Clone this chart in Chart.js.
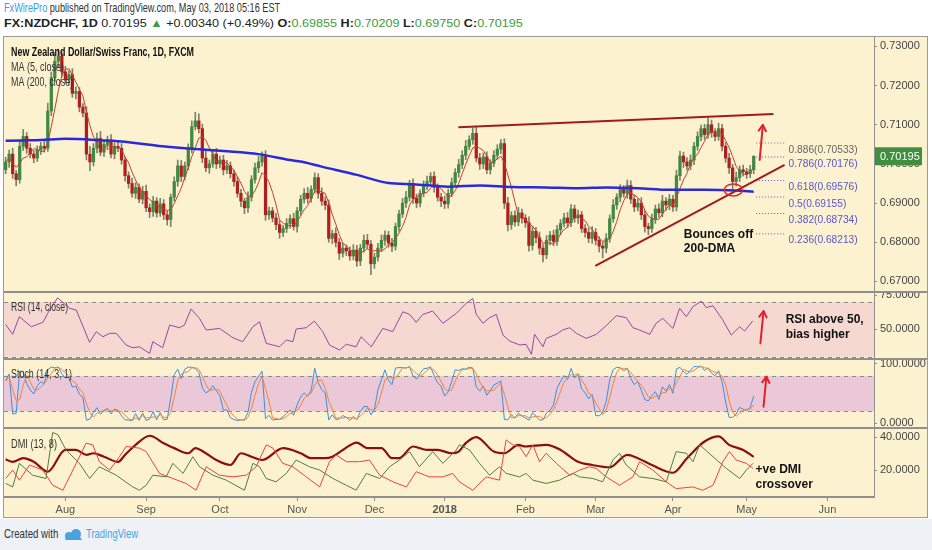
<!DOCTYPE html>
<html>
<head>
<meta charset="utf-8">
<script src="https://cdn.jsdelivr.net/npm/chart.js@4.4.0/dist/chart.umd.min.js"></script>
<style>
  html, body { margin: 0; padding: 0; background: #fff; }
  body { width: 932px; height: 550px; position: relative; overflow: hidden;
         font-family: "Liberation Sans", Arial, sans-serif; }
  .fit { position: absolute; white-space: nowrap; transform-origin: 0 0; }
  #hdr1 { left: 4px; top: 0px; font-size: 13px; color: #333; }
  #hdr2 { left: 4px; top: 17px; font-size: 11.5px; color: #222; }
  .g { color: #3b9b3b; }
  #frame { position: absolute; left: 3px; top: 36px; width: 923px; height: 480px;
           background: #fdf2d0; border: 1px solid #9a9a9a; }
  .pane { position: absolute; left: 4px; width: 923px; }
  .sep { position: absolute; left: 4px; width: 923px; height: 2px; background: #8f8f8f; }
  #foot { position: absolute; left: 0; top: 519px; width: 932px; height: 31px; background: #eef1f5;
          font-size: 12px; color: #333; }
  #foot .fit { top: 8px; }
</style>
</head>
<body>
<div id="hdr1" class="fit"><span style="color:#3d9be9">FxWirePro</span> published on TradingView.com, May 03, 2018 05:16 EST</div>
<div id="hdr2" class="fit"><b>FX:NZDCHF, 1D</b> 0.70195 <span class="g">&#9650;</span> +0.00340 (+0.49%) <b>O:</b><span class="g">0.69855</span> <b>H:</b><span class="g">0.70209</span> <b>L:</b><span class="g">0.69750</span> <b>C:</b><span class="g">0.70195</span></div>
<div id="frame"></div>
<div class="pane" style="top:37px;height:255px"><canvas id="mainChart"></canvas></div>
<div class="pane" style="top:292px;height:67px"><canvas id="rsiChart"></canvas></div>
<div class="pane" style="top:359px;height:69px"><canvas id="stochChart"></canvas></div>
<div class="pane" style="top:428px;height:89px"><canvas id="dmiChart"></canvas></div>
<div class="sep" style="top:291px"></div>
<div class="sep" style="top:358px"></div>
<div class="sep" style="top:427px"></div>
<div id="foot">
  <span id="created" class="fit" style="left:4px">Created with</span>
  <svg style="position:absolute;left:64px;top:9px" width="19" height="13" viewBox="0 0 19 13">
    <path d="M1 12 L5 5 L8 8 L12 2 L18 12 Z" fill="#4aa3df"/>
    <circle cx="5" cy="8" r="4" fill="#4aa3df"/><circle cx="12" cy="6" r="5" fill="#4aa3df"/>
  </svg>
  <span id="tvname" class="fit" style="left:86px;color:#4aa3df">TradingView</span>
</div>

<script>
// ---- data ----
// daily closes, bar 0 = 7 Jul 2017 ... bar 213 = 3 May 2018
var closes = [
  0.7005,0.7025,0.6975,0.6960,0.7045,0.7070,0.7040,0.7025,0.7015,0.7035,
  0.7045,0.7040,0.7135,0.7220,0.7262,0.7275,0.7235,0.7215,0.7228,0.7180,
  0.7185,0.7145,0.7130,0.7025,0.7005,0.7040,0.7065,0.7030,0.7050,0.7060,
  0.7025,0.7045,0.7040,0.7010,0.6970,0.6950,0.6925,0.6940,0.6910,0.6930,
  0.6888,0.6878,0.6905,0.6875,0.6898,0.6870,0.6858,0.6915,0.6955,0.6995,
  0.6968,0.6995,0.7040,0.7095,0.7110,0.7090,0.7015,0.6990,0.7000,0.7025,
  0.7000,0.7010,0.6985,0.6995,0.6975,0.6955,0.6925,0.6905,0.6888,0.6915,
  0.6960,0.6990,0.7005,0.7020,0.6870,0.6880,0.6862,0.6845,0.6825,0.6835,
  0.6848,0.6860,0.6840,0.6880,0.6910,0.6925,0.6912,0.6935,0.6965,0.6925,
  0.6905,0.6895,0.6810,0.6822,0.6800,0.6772,0.6785,0.6778,0.6765,0.6780,
  0.6752,0.6785,0.6805,0.6795,0.6745,0.6762,0.6785,0.6805,0.6818,0.6798,
  0.6790,0.6840,0.6872,0.6900,0.6915,0.6948,0.6912,0.6900,0.6925,0.6945,
  0.6955,0.6968,0.6940,0.6915,0.6905,0.6898,0.6925,0.6952,0.6978,0.6998,
  0.7022,0.7045,0.7062,0.7078,0.7015,0.7000,0.7018,0.6985,0.7002,0.7022,
  0.7038,0.7052,0.6900,0.6845,0.6868,0.6852,0.6875,0.6862,0.6850,0.6792,
  0.6828,0.6812,0.6785,0.6768,0.6805,0.6818,0.6802,0.6832,0.6848,0.6862,
  0.6850,0.6885,0.6862,0.6870,0.6835,0.6825,0.6810,0.6825,0.6805,0.6790,
  0.6785,0.6810,0.6860,0.6895,0.6915,0.6935,0.6925,0.6945,0.6910,0.6890,
  0.6900,0.6870,0.6840,0.6835,0.6860,0.6885,0.6875,0.6905,0.6895,0.6910,
  0.6890,0.6970,0.7020,0.7005,0.6995,0.7010,0.7045,0.7070,0.7090,0.7075,
  0.7100,0.7080,0.7070,0.7090,0.7045,0.7015,0.6990,0.6955,0.6965,0.6985,
  0.6980,0.6975,0.69855,0.70195
];
var firstOpen = 0.6985;
// wick length above / below the body, in pips
var wickUp = [
  12,10,15,8,14,18,10,12,9,11, 10,13,20,15,22,18,12,14,10,15,
  12,10,9,16,20,12,14,18,10,11, 15,9,10,12,8,10,14,12,9,13,
  16,10,12,9,14,11,10,8,12,15, 14,10,11,15,22,18,12,20,10,12,
  15,10,12,14,10,9,12,10,8,14, 10,12,15,11,14,10,9,12,10,8,
  12,10,14,9,10,12,15,9,12,10, 14,11,13,9,15,10,12,8,10,14,
  12,10,13,15,9,10,12,14,11,10, 12,9,10,12,15,10,14,11,9,12,
  14,10,12,9,10,13,11,12,10,14, 12,15,10,14,18,12,10,13,9,12,
  11,10,12,15,10,12,14,10,9,15, 12,10,14,9,12,10,13,11,10,12,
  14,11,10,12,9,10,12,15,10,9, 11,12,10,14,9,12,10,14,12,10,
  11,14,10,9,12,10,13,15,9,12, 10,14,12,10,11,13,10,12,9,11,
  17,12,10,14,11,10,12,9,14,10, 12,9,11,1.4
];
var wickDn = [
  10,14,12,16,9,11,13,10,12,9, 11,10,8,12,10,14,12,9,13,10,
  14,12,10,15,22,10,12,9,11,14, 10,12,9,11,14,12,10,13,9,12,
  10,15,12,11,9,12,14,18,10,12, 13,9,10,12,8,11,12,10,14,9,
  12,10,13,9,11,12,10,14,15,12, 10,9,12,11,14,12,10,13,15,11,
  10,12,9,14,11,10,12,10,9,13, 11,12,10,14,12,16,10,12,11,10,
  14,12,10,11,28,12,10,9,13,11, 14,10,12,9,11,10,13,12,10,9,
  11,10,12,10,14,12,11,9,10,12, 10,11,9,12,10,14,12,10,11,9,
  10,12,14,16,12,11,10,13,12,15, 12,14,16,18,10,12,11,10,13,9,
  12,10,11,14,10,12,11,13,12,15, 25,12,10,9,11,12,10,13,11,12,
  10,12,14,16,10,12,11,10,14,12, 11,10,12,14,11,10,12,10,11,12,
  10,12,11,10,12,11,14,18,12,10, 11,12,10,10.5
];
// 200-day MA read at a few bars
var ma200Idx = [0,5,10,17,28,32,41,46,51,56,62,72,81,84,90,100,109,116,126,135,144,154,163,171,180,189,199,208,213];
var ma200Val = [0.7059,0.7060,0.7061,0.7064,0.7060,0.7058,0.7049,0.7044,0.7040,0.7037,0.7033,0.7025,0.7010,0.7006,0.6993,0.6972,0.6951,0.6948,0.6942,0.6945,0.6941,0.6940,0.6938,0.6940,0.6938,0.6934,0.6934,0.6932,0.6929];

// RSI (14, close) read at [bar, value]
var rsiRead = [[0,53.6],[2,46.4],[3.9,59.2],[7.3,51.9],[10.6,55.1],[12.5,64.1],[14.8,73],[18.2,65.3],[20.1,64.1],[23.9,40.5],
  [25.8,48.3],[27.7,44.6],[29.6,47.1],[31.5,47.1],[34.3,38.6],[36.2,36.6],[38.1,37.3],[41,32.5],[41.9,41],[44.7,36.6],
  [46.7,53.1],[49.5,51.2],[50.9,53.1],[52.8,64.8],[55.2,58],[57.1,49.5],[60.9,50.7],[64.7,43.9],[67.5,41],[70.4,51.9],
  [72.3,55.5],[74.2,39.8],[78,37.3],[79.9,42.2],[81.8,41],[82.7,50.2],[85.6,51.2],[87.9,56],[90.3,48.3],[92.2,38.6],
  [95.1,34.9],[97,39.1],[99.8,37.3],[101.2,44.6],[104.1,37.3],[107.4,50.7],[110.2,48.3],[113.1,62.8],[115,60.9],[116.9,55.1],
  [118.8,60.9],[121.6,63.3],[124.5,54.4],[128.3,61.6],[131.1,68.9],[133,72.5],[134,60.9],[135.9,54.4],[137.8,58.5],[139.7,60.9],
  [141.6,45.8],[143.5,41.5],[146.4,38.6],[148.2,39.1],[149.7,31.8],[150.6,46.4],[153,37.3],[153.9,43.4],[156.8,46.4],[158.6,49.5],
  [160.6,51.2],[162.5,47.1],[165.3,43.4],[168.2,46.4],[171,52.7],[173.9,60],[176.7,58.5],[178.6,51.2],[180.5,49.5],[183.4,46.4],
  [185.2,54.4],[187.1,58],[190,50.7],[191.9,65.3],[193.8,59.2],[195.7,66.5],[198.1,70.6],[199.5,65.8],[201.4,67.2],[204.2,56.8],
  [206.6,45.8],[209,51.9],[210.4,48.8],[212.7,56]];

// DMI (13, 8) lines read at [bar, value]
var adxRead = [[0,26.5],[2,25],[5,27.2],[8,25],[12,19],[17,32.2],[20,32.2],[23,29.2],[25,30.2],[28,28.1],
  [32,25],[34,29.2],[37,35.3],[41,40.8],[45,36.3],[48,33.3],[52,30.2],[54,33.3],[57,30.2],[60,26.1],
  [64,23.1],[67,30.2],[70,28.1],[73,26.1],[79,33.3],[84,30.2],[87,27.2],[91,27.2],[93,28.1],[96,32.2],
  [100,36.7],[103,33.3],[107,33.3],[110,27.2],[112,27.2],[116,34.3],[120,32.2],[123,32.2],[127,30.2],[129,31.2],
  [131,36.3],[134,40],[139,31.2],[142,30.2],[146,35.3],[148,34.3],[154,35.3],[158,32.2],[163,25],[167,23.1],
  [172,21.7],[177,29.2],[180,27.2],[184,23.1],[190,18.4],[194,27.2],[199,37.3],[203,40.4],[206,35.3],[210,32.2],[213,28]];
var diPlusRead = [[0,11.9],[2,9.8],[3.9,24.1],[7.7,16.9],[11.5,14.9],[13.4,42.8],[14.9,41.4],[17.2,32.2],[21,24.1],[23.9,14.9],
  [26.7,22],[31.5,16.9],[36.2,9.8],[38.1,7.8],[40,10.8],[41.9,16.9],[45.7,15.9],[47.6,24.1],[50.5,18],[53.3,28.1],
  [55.2,22],[59,16.9],[62.8,13.9],[68,7.8],[70.4,24.1],[72.3,22],[74.2,14.9],[77,12.9],[79.9,18],[82.7,26.1],
  [86.5,22],[89.4,20],[93.2,14.9],[97,10.8],[99.8,7.8],[102.7,18],[106.5,14.9],[109.3,22],[112.1,26.1],[115,31.2],
  [117.8,22],[121.6,31.2],[124.5,24.1],[128.3,32.2],[129.2,35.3],[132.1,32.2],[134.9,24.1],[137.8,16.9],[140.6,22],[142.5,18],
  [146.3,15.9],[148.2,18],[150.1,13.9],[153.9,11.9],[157.7,13.9],[161.5,18],[163.4,15.9],[167.2,14.9],[170,12.9],[172.9,26.1],
  [174.8,30.2],[176.7,23.1],[180.5,15.9],[184.3,14.9],[188.1,12.9],[190.9,31.2],[193.8,30.2],[195.7,25.1],[197.6,35.3],[201.4,28.1],
  [205.2,21],[207.1,18],[209,14.9],[210.9,20],[212.8,24.1]];
var diMinusRead = [[0,14.9],[2,20],[3.9,13.9],[6.8,23.1],[10.6,20],[13.4,10.8],[16.3,7.8],[20.1,24.1],[22.9,36.3],[24.8,35.3],
  [26.7,25.1],[29.6,20],[32.4,28.1],[34.3,34.3],[38.1,33.3],[40,31.2],[43.8,18],[47.6,14.9],[51.4,11.9],[54.2,7.8],
  [57.1,22],[60.9,16.9],[64.7,15.9],[68.5,16.9],[71.3,22],[74.2,35.3],[76.1,33.3],[78.9,24.1],[81.8,22],[85.6,15.9],
  [89.4,9.8],[92.2,25.1],[94.1,29.2],[97,25.1],[100.8,25.1],[103.6,26.1],[106.5,16.9],[110.3,12.9],[114.1,9.8],[116.9,19],
  [120.7,15.9],[124.5,15.9],[127.3,18],[129.2,12.9],[133,7.8],[136.8,15.9],[140.6,13.9],[142.5,38.3],[144.4,35.3],[146.3,34.3],
  [148.2,28.1],[150.1,35.3],[152,25.1],[153.9,30.2],[156.8,24.1],[160.6,16.9],[163.4,20],[166.2,22],[168.2,21],[171,15.9],
  [174.8,10.8],[178.6,15.9],[180.5,25.1],[184.3,20],[188.1,12.9],[190.9,8.8],[195.7,9.8],[198.5,7.8],[201.4,10.8],[204.2,25.1],
  [206.1,31.2],[208,26.1],[210.9,24.1],[212.8,21]];

var monthIdx = [17,40,61,83,105,125,148,168,190,211,234];
var monthLabels = ['Aug','Sep','Oct','Nov','Dec','2018','Feb','Mar','Apr','May','Jun'];
var priceTicks = [0.67,0.68,0.69,0.70,0.71,0.72,0.73];
var rsiTicks = [50,75];
var stochTicks = [0,100];
var dmiTicks = [20,40];

var fibRatio = ['0.886','0.786','0.618','0.5','0.382','0.236'];
var fibPrice = [0.70533,0.70176,0.69576,0.69155,0.68734,0.68213];
var fibFrom = 213.7, fibTo = 221.8;
var trendUpX = [128.9,218.6], trendUpY = [0.70936,0.71276];
var trendLoX = [167.9,221.8], trendLoY = [0.67398,0.69974];

var X_MIN = -0.47, X_MAX = 247.25;
var FA = '"Liberation Sans",Arial,sans-serif';

// ---- bars ----
var opens = closes.map(function (c, i) { return i === 0 ? firstOpen : closes[i - 1]; });
var highs = closes.map(function (c, i) { return Math.max(opens[i], c) + wickUp[i] / 10000; });
var lows = closes.map(function (c, i) { return Math.min(opens[i], c) - wickDn[i] / 10000; });
var upBar = closes.map(function (c, i) { return c >= opens[i]; });

function avg(a) { return a.reduce(function (s, v) { return s + v; }, 0) / a.length; }
function pts(pairs) { return pairs.map(function (p) { return { x: p[0], y: p[1] }; }); }

var ma5 = closes.map(function (c, i) { return { x: i, y: avg(closes.slice(Math.max(0, i - 4), i + 1)) }; });
var ma200 = ma200Idx.map(function (v, k) { return { x: v, y: ma200Val[k] }; });

// ---- Stoch (14) from the bars: blue %K, orange 3-bar average ----
var kRaw = closes.map(function (c, i) {
  var s = Math.max(0, i - 13);
  var hh = Math.max.apply(null, highs.slice(s, i + 1)), ll = Math.min.apply(null, lows.slice(s, i + 1));
  return 100 * (c - ll) / (hh - ll);
});
var stochK = kRaw.map(function (v, i) { return { x: i, y: v }; });
var stochD = kRaw.map(function (v, i) { return { x: i, y: avg(kRaw.slice(Math.max(0, i - 2), i + 1)) }; });

// ---- shared scales ----
function xScale(show) {
  return {
    type: 'linear', min: X_MIN, max: X_MAX, display: show, offset: false,
    afterBuildTicks: function (ax) { ax.ticks = monthIdx.map(function (v) { return { value: v }; }); },
    afterFit: function (ax) { if (show) { ax.height = 20; } ax.paddingLeft = 0; ax.paddingRight = 0; },
    grid: { drawOnChartArea: false, drawTicks: true, tickLength: 4, color: '#8f8f8f', offset: false },
    border: { display: true, color: '#8f8f8f', width: 2 },
    ticks: {
      maxRotation: 0, autoSkip: false, color: '#555', padding: 2,
      font: function (c) { return { family: FA, size: 11, weight: c.tick && c.tick.value === 125 ? 'bold' : 'normal' }; },
      callback: function (v) { return monthLabels[monthIdx.indexOf(v)]; }
    }
  };
}
function yScale(min, max, ticks, dec) {
  return {
    position: 'right', min: min, max: max,
    afterBuildTicks: function (ax) { ax.ticks = ticks.map(function (v) { return { value: v }; }); },
    afterFit: function (ax) { ax.width = 53; ax.paddingTop = 0; ax.paddingBottom = 0; },
    grid: { drawOnChartArea: false, drawTicks: true, tickLength: 3, color: '#8f8f8f' },
    border: { display: true, color: '#8f8f8f', width: 1 },
    ticks: { color: '#444', padding: 3, font: { family: FA, size: 11 }, callback: function (v) { return v.toFixed(dec); } }
  };
}
function baseOptions(showX, y) {
  return {
    responsive: true, maintainAspectRatio: false, animation: false,
    layout: { padding: 0 },
    plugins: { legend: { display: false }, tooltip: { enabled: false } },
    scales: { x: xScale(showX), y: y }
  };
}
function line(data, color, width, extra) {
  var d = { type: 'line', data: data, borderColor: color, borderWidth: width, pointRadius: 0, fill: false, tension: 0 };
  for (var k in extra || {}) d[k] = extra[k];
  return d;
}
// draw text squeezed to the width it has in the picture
function fitText(c, text, x, y, w) {
  var m = c.measureText(text).width;
  c.save(); c.translate(x, y); c.scale(w / m, 1); c.fillText(text, 0, 0); c.restore();
}
function arrow(c, x0, y0, x1, y1) {
  c.save();
  c.strokeStyle = '#e5202c'; c.lineWidth = 2; c.lineCap = 'round'; c.lineJoin = 'round';
  c.beginPath(); c.moveTo(x0, y0); c.lineTo(x1, y1); c.stroke();
  var a = Math.atan2(y1 - y0, x1 - x0), h = 7;
  c.beginPath();
  c.moveTo(x1 - h * Math.cos(a - 0.55), y1 - h * Math.sin(a - 0.55));
  c.lineTo(x1, y1);
  c.lineTo(x1 - h * Math.cos(a + 0.55), y1 - h * Math.sin(a + 0.55));
  c.stroke();
  c.restore();
}
function band(ch, lo, hi, color) {
  var c = ch.ctx, a = ch.chartArea, Y = function (v) { return ch.scales.y.getPixelForValue(v); };
  c.save();
  c.fillStyle = color;
  c.fillRect(a.left, Y(hi), a.right - a.left, Y(lo) - Y(hi));
  c.strokeStyle = '#8a8a8a'; c.lineWidth = 1; c.setLineDash([4, 4]);
  [lo, hi].forEach(function (v) { c.beginPath(); c.moveTo(a.left, Math.round(Y(v)) + 0.5); c.lineTo(a.right, Math.round(Y(v)) + 0.5); c.stroke(); });
  c.restore();
}
function paneLabel(ch, text, y, w) {
  var c = ch.ctx;
  c.save(); c.fillStyle = '#333'; c.font = '12px ' + FA; c.textBaseline = 'middle';
  fitText(c, text, 7, y, w); c.restore();
}
function boldText(ch, lines, x, y) {
  var c = ch.ctx;
  c.save(); c.fillStyle = '#111'; c.font = 'bold 12px ' + FA; c.textBaseline = 'middle';
  lines.forEach(function (t, k) { c.fillText(t, x, y + k * 14.3); });
  c.restore();
}

// ---- main price pane ----
var mainDeco = {
  id: 'mainDeco',
  afterDatasetsDraw: function (ch) {
    var c = ch.ctx;
    var X = function (v) { return ch.scales.x.getPixelForValue(v); };
    var Y = function (v) { return ch.scales.y.getPixelForValue(v); };
    c.save();
    c.strokeStyle = '#e3262b'; c.lineWidth = 1.5;
    c.beginPath(); c.ellipse(X(207.2), Y(0.69337), 9, 6, 0, 0, Math.PI * 2); c.stroke();
    c.restore();
    arrow(c, X(214.7), Y(0.70102), X(215.6), Y(0.70995));
    c.save();
    c.font = '11px ' + FA; c.textBaseline = 'middle';
    var k0 = 69 / c.measureText('0.886(0.70533)').width;
    fibPrice.forEach(function (p, k) {
      var t = fibRatio[k] + '(' + p.toFixed(5) + ')';
      c.fillStyle = k === 0 ? '#666' : '#5656d2';
      fitText(c, t, X(fibTo) + 4, Y(p) + 6.5, c.measureText(t).width * k0);
    });
    c.restore();
    boldText(ch, ['Bounces off', '200-DMA'], X(193.1), Y(0.68189));
    c.save();
    c.textBaseline = 'middle';
    c.fillStyle = '#111'; c.font = 'bold 12.5px ' + FA;
    fitText(c, 'New Zealand Dollar/Swiss Franc, 1D, FXCM', 7, 16, 183);
    c.fillStyle = '#333'; c.font = '12.5px ' + FA;
    fitText(c, 'MA (5, close)', 7, 30.5, 53);
    fitText(c, 'MA (200, close)', 7, 45.5, 62);
    c.restore();
  },
  afterDraw: function (ch) {
    var c = ch.ctx, a = ch.chartArea;
    var last = closes[closes.length - 1], yb = ch.scales.y.getPixelForValue(last);
    c.save();
    c.fillStyle = '#3f8f3f'; c.fillRect(a.right + 1, yb - 9, 47, 18);
    c.fillStyle = '#fff'; c.font = '11px ' + FA; c.textBaseline = 'middle';
    c.fillText(last.toFixed(5), a.right + 6, yb + 0.5);
    c.restore();
  }
};

new Chart(document.getElementById('mainChart'), {
  type: 'line',
  data: {
    datasets: [
      { type: 'bar', order: 5, grouped: false, barThickness: 1,
        data: closes.map(function (c, i) { return { x: i, y: [lows[i], highs[i]] }; }),
        backgroundColor: '#7b806c' },
      { type: 'bar', order: 4, grouped: false, barThickness: 2.6, minBarLength: 1,
        data: closes.map(function (c, i) { return { x: i, y: [Math.min(opens[i], c), Math.max(opens[i], c)] }; }),
        backgroundColor: upBar.map(function (u) { return u ? '#3e8a3e' : '#b01f1d'; }) },
      line(ma5, '#c0402e', 1, { order: 3 }),
      line(ma200, '#2a2ad8', 2.5, { order: 2, cubicInterpolationMode: 'monotone' }),
      line([{ x: trendUpX[0], y: trendUpY[0] }, { x: trendUpX[1], y: trendUpY[1] }], '#a01b1b', 2, { order: 1 }),
      line([{ x: trendLoX[0], y: trendLoY[0] }, { x: trendLoX[1], y: trendLoY[1] }], '#a01b1b', 2, { order: 1 })
    ].concat(fibPrice.map(function (p, k) {
      return line([{ x: fibFrom, y: p }, { x: fibTo, y: p }], k === 0 ? '#777' : '#5656d2', 1, { order: 1, borderDash: [1, 2] });
    }))
  },
  options: baseOptions(false, yScale(0.6673, 0.7324, priceTicks, 5)),
  plugins: [mainDeco]
});

// ---- RSI pane ----
new Chart(document.getElementById('rsiChart'), {
  type: 'line',
  data: { datasets: [line(pts(rsiRead), '#9b45a8', 1)] },
  options: baseOptions(false, yScale(28.4, 77.2, rsiTicks, 4)),
  plugins: [{
    id: 'rsiDeco',
    beforeDatasetsDraw: function (ch) { band(ch, 30, 70, '#f5d9d0'); },
    afterDatasetsDraw: function (ch) {
      var X = function (v) { return ch.scales.x.getPixelForValue(v); };
      var Y = function (v) { return ch.scales.y.getPixelForValue(v); };
      paneLabel(ch, 'RSI (14, close)', 16, 57);
      arrow(ch.ctx, X(214.9), Y(39.8), X(215.8), Y(63.3));
      boldText(ch, ['RSI above 50,', 'bias higher'], X(222.1), Y(56.8));
    }
  }]
});

// ---- Stoch pane ----
new Chart(document.getElementById('stochChart'), {
  type: 'line',
  data: { datasets: [line(stochD, '#f0853c', 1), line(stochK, '#3f8fdc', 1)] },
  options: baseOptions(false, yScale(-7.9, 108.4, stochTicks, 4)),
  plugins: [{
    id: 'stochDeco',
    beforeDatasetsDraw: function (ch) { band(ch, 20, 80, '#eac8d8'); },
    afterDatasetsDraw: function (ch) {
      var X = function (v) { return ch.scales.x.getPixelForValue(v); };
      var Y = function (v) { return ch.scales.y.getPixelForValue(v); };
      paneLabel(ch, 'Stoch (14, 3, 1)', 16, 61);
      arrow(ch.ctx, X(215.8), Y(28), X(216.6), Y(78.6));
    }
  }]
});

// ---- DMI pane + time axis ----
new Chart(document.getElementById('dmiChart'), {
  type: 'line',
  data: { datasets: [
    line(pts(diMinusRead), '#e8433f', 1),
    line(pts(diPlusRead), '#4f7d3c', 1),
    line(pts(adxRead), '#8a1010', 2.2, { cubicInterpolationMode: 'monotone' })
  ] },
  options: baseOptions(true, yScale(3.7, 45.5, dmiTicks, 4)),
  plugins: [{
    id: 'dmiDeco',
    afterDatasetsDraw: function (ch) {
      var X = function (v) { return ch.scales.x.getPixelForValue(v); };
      var Y = function (v) { return ch.scales.y.getPixelForValue(v); };
      paneLabel(ch, 'DMI (13, 8)', 17, 46);
      boldText(ch, ['+ve DMI', 'crossover'], X(213.5), Y(20));
    }
  }]
});

// squeeze the html text lines to their width in the picture
[['hdr1', 276], ['hdr2', 519], ['created', 54], ['tvname', 52]].forEach(function (p) {
  var el = document.getElementById(p[0]);
  el.style.transform = 'scaleX(' + (p[1] / el.offsetWidth) + ')';
});
</script>
</body>
</html>
